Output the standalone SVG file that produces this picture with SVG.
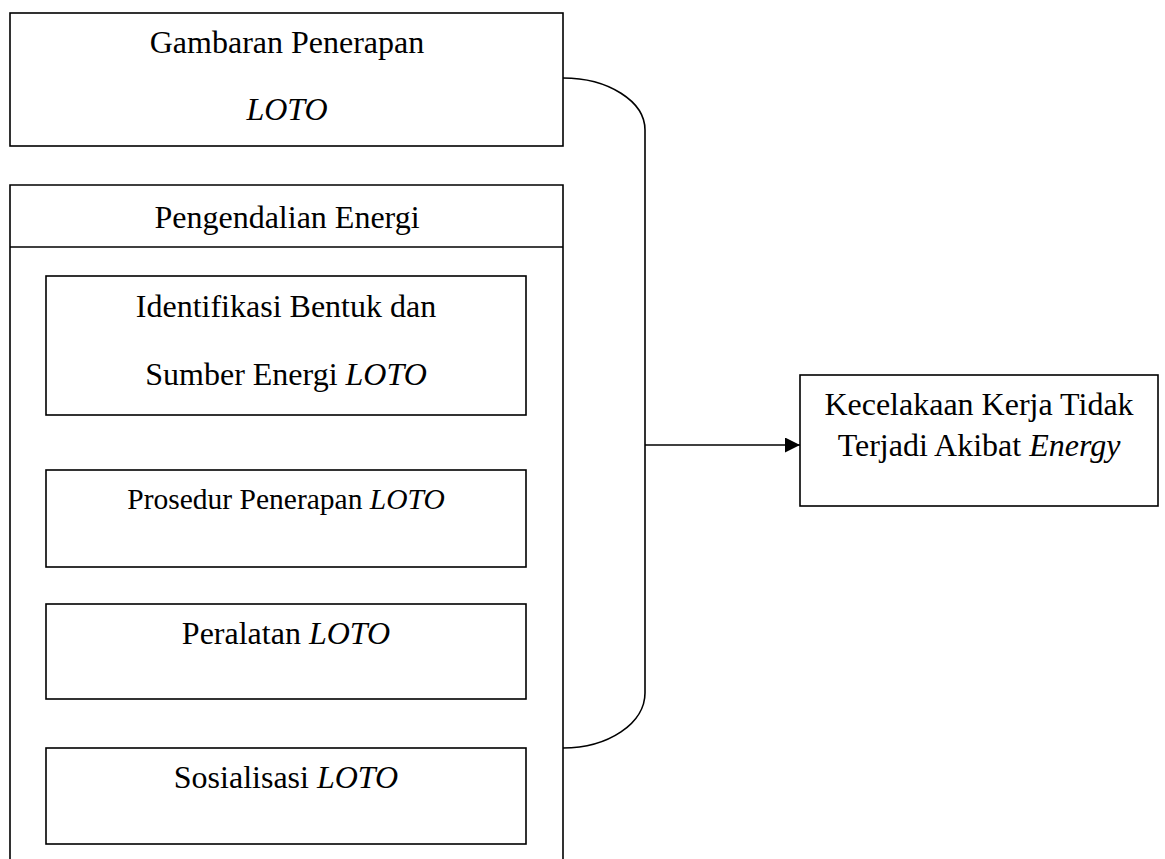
<svg xmlns="http://www.w3.org/2000/svg" width="1165" height="859" viewBox="0 0 1165 859">
<style>
.box{fill:#fff;stroke:#000;stroke-width:1.6}
.t{font-family:"Liberation Serif","Times New Roman",serif;font-size:32px;fill:#000;text-anchor:middle}
.s{font-size:29.5px}
.i{font-style:italic}
.c{fill:none;stroke:#000;stroke-width:1.6}
</style>
<defs>
<marker id="ah" markerWidth="15" markerHeight="15" refX="15" refY="7.5" orient="auto" markerUnits="userSpaceOnUse">
<path d="M0,0 L15,7.5 L0,15 Z" fill="#000"/>
</marker>
</defs>
<rect width="1165" height="859" fill="#fff"/>
<g id="gambaran">
<rect class="box" x="10" y="13" width="553" height="133"/>
<text class="t" x="287" y="53">Gambaran Penerapan</text>
<text class="t i" x="287" y="120">LOTO</text>
</g>
<g id="pengendalian">
<path class="c" d="M10,870 V185 H563 V870"/>
<line class="c" x1="10" y1="247" x2="563" y2="247"/>
<text class="t" x="287" y="228">Pengendalian Energi</text>
</g>
<g id="identifikasi">
<rect class="box" x="46" y="276" width="480" height="139"/>
<text class="t" x="286" y="317">Identifikasi Bentuk dan</text>
<text class="t" x="286" y="385">Sumber Energi <tspan class="i">LOTO</tspan></text>
</g>
<g id="prosedur">
<rect class="box" x="46" y="470" width="480" height="97"/>
<text class="t s" x="286" y="509">Prosedur Penerapan <tspan class="i">LOTO</tspan></text>
</g>
<g id="peralatan">
<rect class="box" x="46" y="604" width="480" height="95"/>
<text class="t" x="286" y="644">Peralatan <tspan class="i">LOTO</tspan></text>
</g>
<g id="sosialisasi">
<rect class="box" x="46" y="748" width="480" height="96"/>
<text class="t" x="286" y="788">Sosialisasi <tspan class="i">LOTO</tspan></text>
</g>
<g id="kecelakaan">
<rect class="box" x="800" y="375" width="358" height="131"/>
<text class="t" x="979" y="415">Kecelakaan Kerja Tidak</text>
<text class="t" x="979" y="456">Terjadi Akibat <tspan class="i">Energy</tspan></text>
</g>
<g id="connectors">
<path class="c" d="M563,78 A82,52 0 0 1 645,130 V693 A82,55 0 0 1 563,748"/>
<line class="c" x1="645" y1="445" x2="800" y2="445" marker-end="url(#ah)"/>
</g>
</svg>
